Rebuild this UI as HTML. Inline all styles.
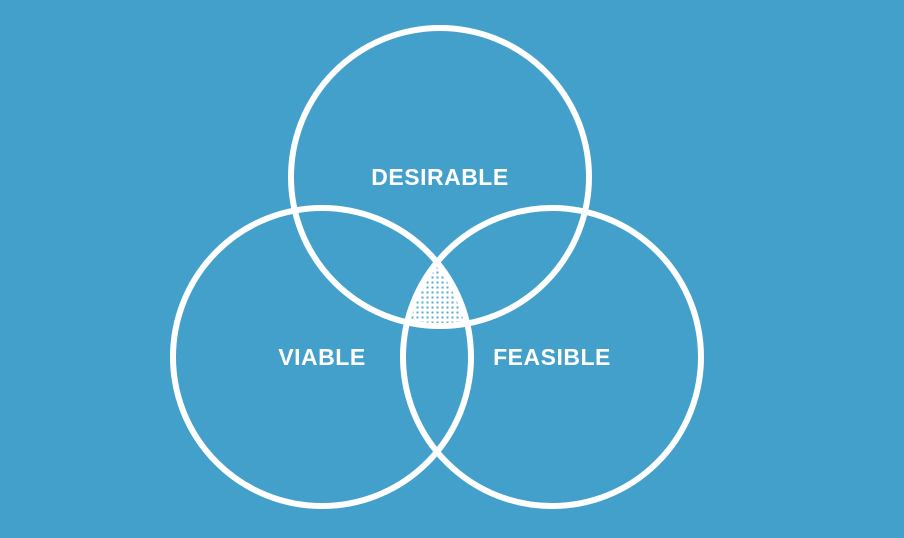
<!DOCTYPE html>
<html><head><style>
html,body{margin:0;padding:0;background:#42a0cb;}
svg{display:block}
text{font-family:"Liberation Sans",sans-serif;font-weight:bold;fill:#fff;font-size:23px;letter-spacing:0.5px}
</style></head><body>
<svg width="904" height="538" viewBox="0 0 904 538">
<defs>
<pattern id="p" width="5" height="5" patternUnits="userSpaceOnUse">
<rect width="5" height="5" fill="#fff"/>
<rect x="1.5" y="1.5" width="2" height="2" fill="#5aa9d3"/>
</pattern>
<clipPath id="c1"><circle cx="440" cy="177" r="149"/></clipPath>
<clipPath id="c2"><circle cx="322" cy="357" r="149"/></clipPath>
</defs>
<rect width="904" height="538" fill="#42a0cb"/>
<g clip-path="url(#c1)"><g clip-path="url(#c2)">
<circle cx="552" cy="357" r="149" fill="url(#p)"/>
</g></g>
<g fill="none" stroke="#fff" stroke-width="6">
<circle cx="440" cy="177" r="149"/>
<circle cx="322" cy="357" r="149"/>
<circle cx="552" cy="357" r="149"/>
</g>
<text x="440" y="185" text-anchor="middle">DESIRABLE</text>
<text x="322" y="365" text-anchor="middle">VIABLE</text>
<text x="552" y="365" text-anchor="middle">FEASIBLE</text>
</svg>
</body></html>
